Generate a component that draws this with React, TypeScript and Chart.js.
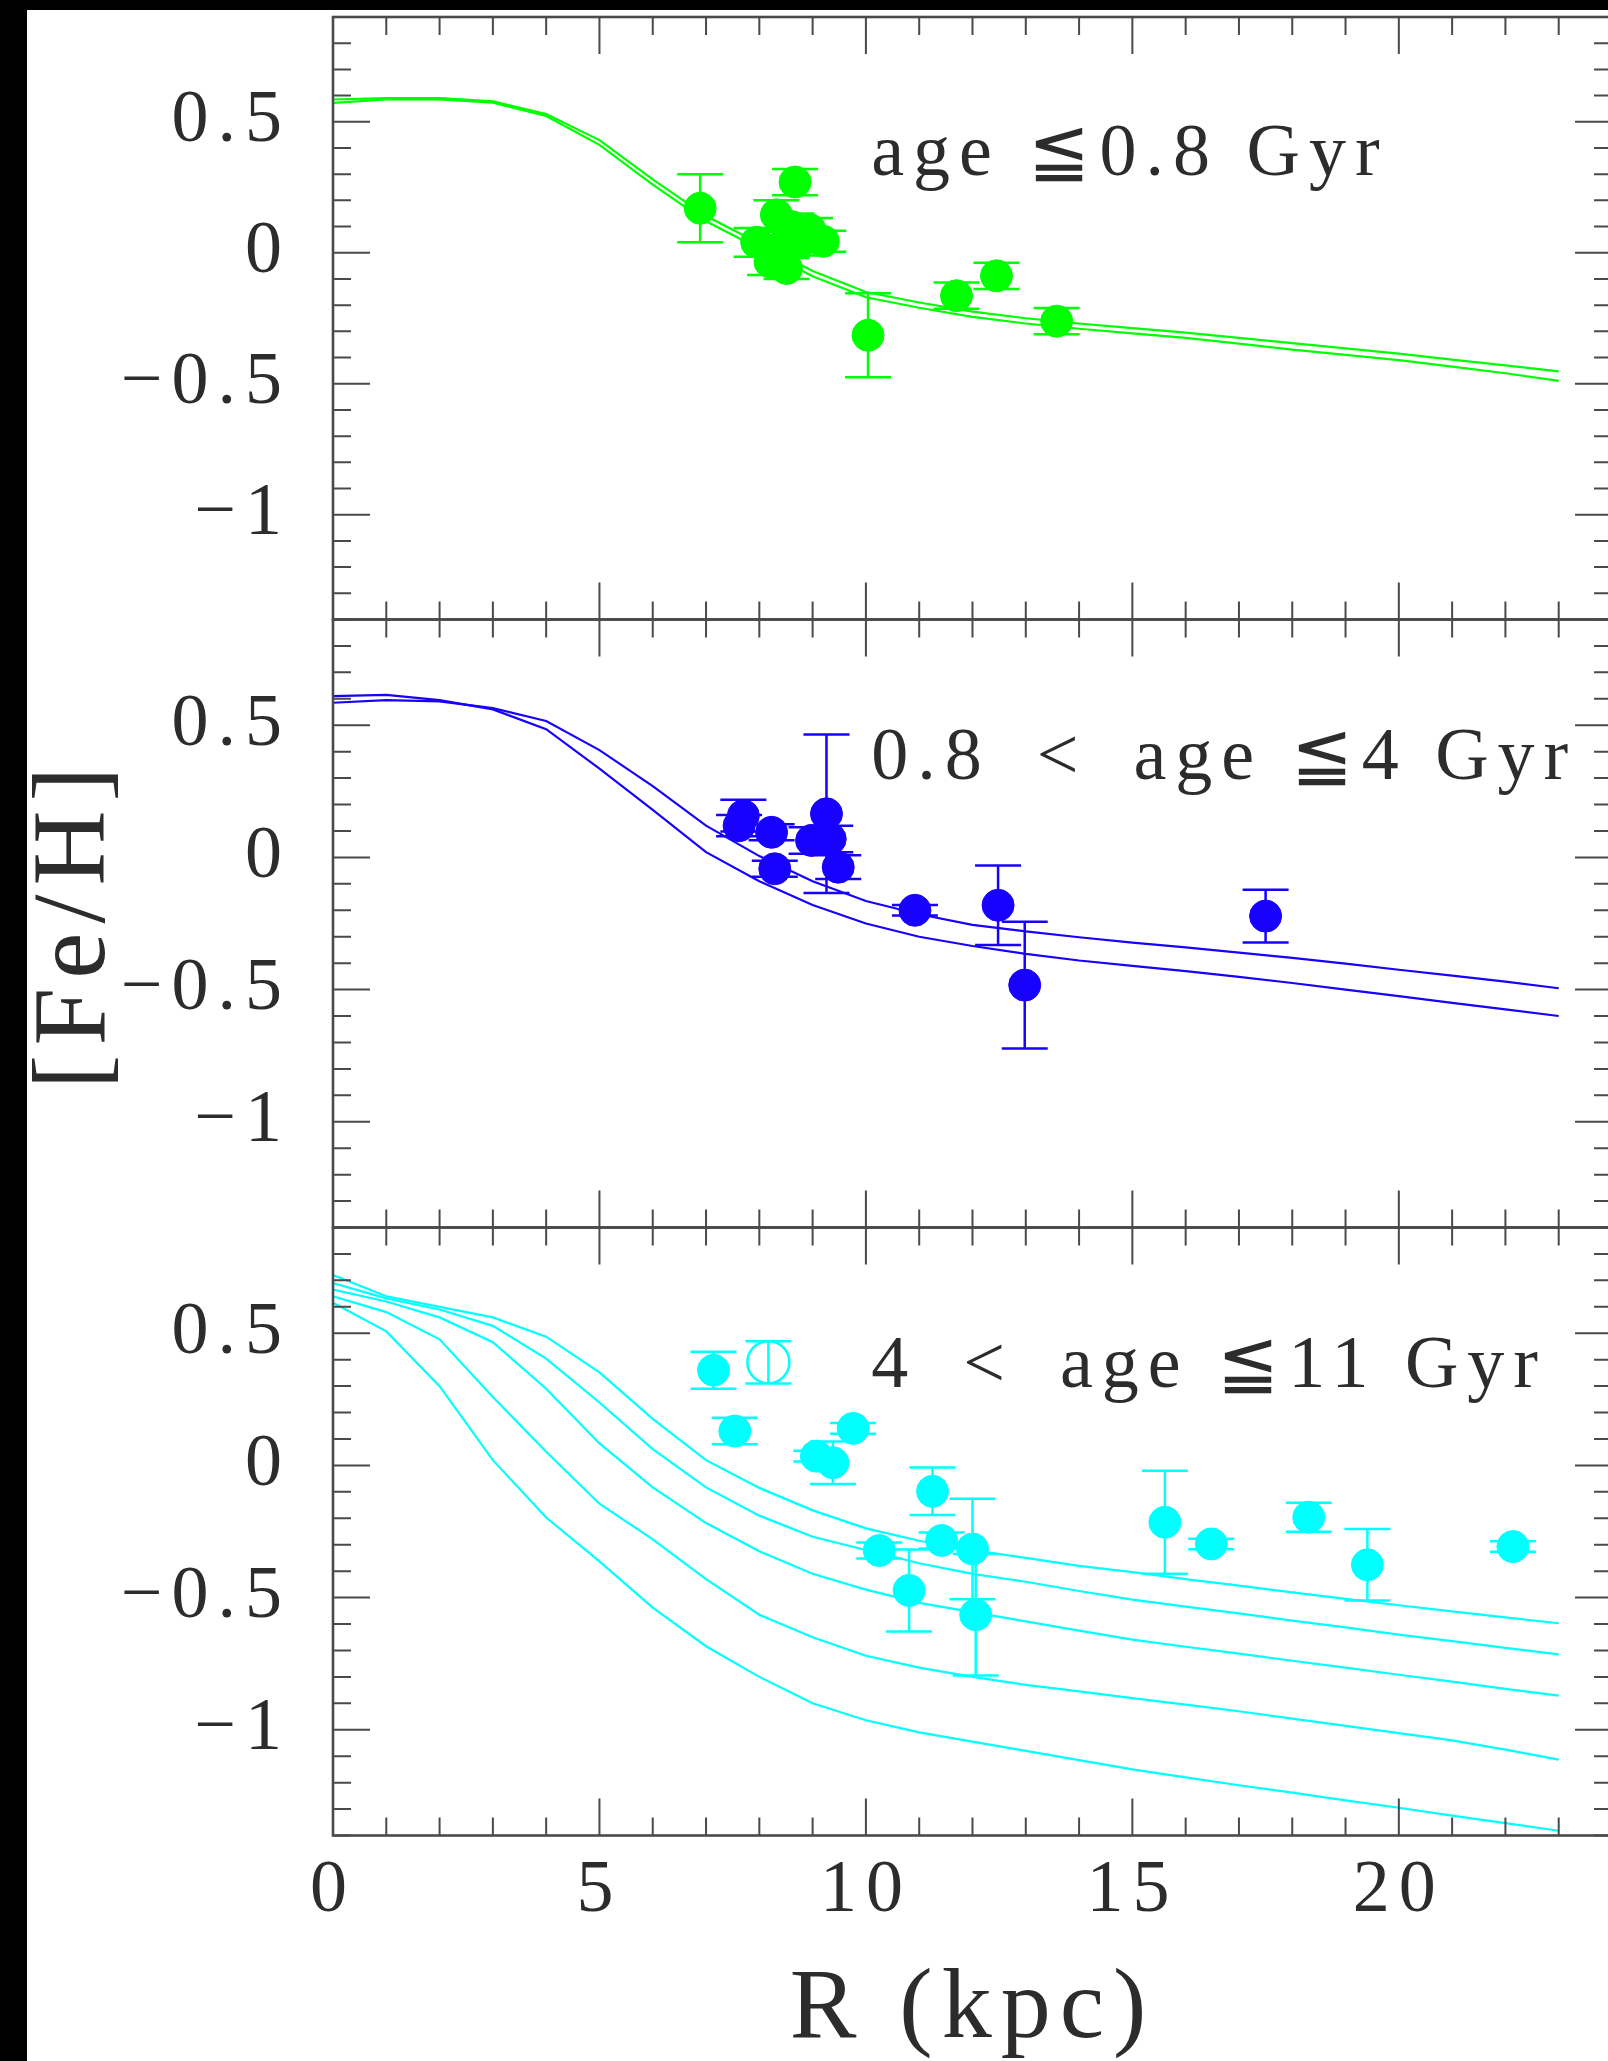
import React, { useEffect, useRef } from 'react';
import { Chart, registerables } from 'chart.js';

Chart.register(...registerables);

// ---------------- data ----------------
const R_GRID = [0, 1, 2, 3, 4, 5, 6, 7, 8, 9, 10, 11, 12, 13, 14, 15, 16, 17, 18, 19, 20, 21, 22, 23];

// age <= 0.8 Gyr models
const GREEN_MODEL_A = [0.585, 0.59, 0.59, 0.578, 0.53, 0.43, 0.28, 0.14, 0.035, -0.07, -0.15, -0.19, -0.225, -0.25, -0.27, -0.288, -0.305, -0.325, -0.345, -0.365, -0.385, -0.408, -0.43, -0.453];
const GREEN_MODEL_B = [0.572, 0.585, 0.585, 0.573, 0.522, 0.412, 0.26, 0.12, 0.015, -0.09, -0.17, -0.21, -0.245, -0.27, -0.29, -0.308, -0.325, -0.347, -0.37, -0.39, -0.41, -0.435, -0.46, -0.489];

// 0.8 < age <= 4 Gyr models
const BLUE_MODEL_A = [0.585, 0.595, 0.59, 0.565, 0.516, 0.406, 0.27, 0.12, 0.005, -0.09, -0.165, -0.215, -0.255, -0.28, -0.302, -0.322, -0.34, -0.36, -0.38, -0.402, -0.425, -0.447, -0.47, -0.495];
const BLUE_MODEL_B = [0.61, 0.615, 0.595, 0.56, 0.485, 0.336, 0.18, 0.02, -0.09, -0.18, -0.25, -0.3, -0.335, -0.365, -0.39, -0.41, -0.43, -0.452, -0.475, -0.5, -0.525, -0.55, -0.575, -0.6];

// 4 < age <= 11 Gyr models
const CYAN_MODEL_1 = [0.72, 0.64, 0.6, 0.56, 0.487, 0.352, 0.176, 0.02, -0.085, -0.17, -0.238, -0.285, -0.321, -0.35, -0.38, -0.404, -0.43, -0.455, -0.48, -0.505, -0.529, -0.552, -0.575, -0.597];
const CYAN_MODEL_2 = [0.69, 0.632, 0.59, 0.528, 0.404, 0.238, 0.062, -0.083, -0.19, -0.27, -0.32, -0.37, -0.41, -0.44, -0.475, -0.508, -0.534, -0.56, -0.587, -0.613, -0.64, -0.665, -0.69, -0.715];
const CYAN_MODEL_3 = [0.665, 0.62, 0.56, 0.466, 0.29, 0.083, -0.083, -0.218, -0.325, -0.41, -0.47, -0.52, -0.555, -0.59, -0.625, -0.659, -0.686, -0.712, -0.739, -0.765, -0.792, -0.818, -0.845, -0.871];
const CYAN_MODEL_4 = [0.64, 0.58, 0.477, 0.259, 0.052, -0.145, -0.28, -0.43, -0.565, -0.65, -0.72, -0.765, -0.8, -0.83, -0.855, -0.88, -0.905, -0.93, -0.958, -0.985, -1.013, -1.04, -1.075, -1.113];
const CYAN_MODEL_5 = [0.615, 0.507, 0.3, 0.02, -0.197, -0.363, -0.538, -0.684, -0.8, -0.9, -0.964, -1.01, -1.045, -1.08, -1.115, -1.15, -1.18, -1.21, -1.238, -1.267, -1.295, -1.325, -1.353, -1.382];

// observed clusters
const GREEN_R = [6.89, 8.67, 8.32, 7.95, 8.2, 8.51, 8.45, 8.6, 8.76, 8.95, 9.2, 10.04, 11.7, 12.45, 13.58];
const GREEN_FEH = [0.17, 0.27, 0.145, 0.04, -0.035, -0.06, 0.03, 0.1, 0.04, 0.088, 0.044, -0.315, -0.164, -0.088, -0.261];
const GREEN_ERR = [0.13, 0.05, 0.055, 0.055, 0.05, 0.04, 0.05, 0.05, 0.05, 0.045, 0.04, 0.16, 0.05, 0.05, 0.05];

const BLUE_R = [7.7, 7.62, 8.23, 8.29, 9.26, 8.98, 9.33, 9.48, 10.92, 12.48, 12.98, 17.5];
const BLUE_FEH = [0.158, 0.12, 0.095, -0.043, 0.165, 0.064, 0.07, -0.037, -0.2, -0.181, -0.483, -0.222];
const BLUE_ERR = [0.06, 0.04, 0.03, 0.03, 0.3, 0.05, 0.05, 0.045, 0.02, 0.15, 0.24, 0.1];

const CYAN_R = [7.14, 7.54, 9.76, 9.07, 9.38, 11.25, 10.25, 11.42, 12.0, 12.06, 10.81, 15.61, 16.48, 18.31, 19.41, 22.14];
const CYAN_FEH = [0.36, 0.13, 0.14, 0.035, 0.01, -0.098, -0.322, -0.284, -0.316, -0.565, -0.473, -0.215, -0.297, -0.196, -0.376, -0.307];
const CYAN_ERR = [0.07, 0.05, 0.02, 0.02, 0.08, 0.09, 0.03, 0.03, 0.19, 0.23, 0.155, 0.195, 0.02, 0.055, 0.135, 0.02];

const CYAN_OPEN_R = [8.17];
const CYAN_OPEN_FEH = [0.39];
const CYAN_OPEN_ERR = [0.08];

const PANEL_LABELS = ['age \u22660.8 Gyr', '0.8\u2002<\u2002age \u22664 Gyr', '4\u2002<\u2002age \u226611 Gyr'];
const X_TITLE = 'R (kpc)';
const Y_TITLE = '[Fe/H]';
const X_MIN = 0;
const X_MAX = 24;
const Y_MIN = -1.4;
const Y_MAX = 0.9;
const LABEL_ANCHOR_R = 10.1;
const LABEL_ANCHOR_FEH = 0.295;

// ---------------- styling / layout ----------------
const W = 1640;
const H = 2061;
const VIEW_W = 1608;
const AXIS_W = 333;
const RIGHT_PAD = W - 1612;
const PANEL_TOP = [11.5, 619.5, 1227.5];
const PANEL_BOTTOM = [619.5, 1227.5, 1835.5];
const FONT = '"Liberation Serif", "DejaVu Serif", serif';
const TEXT_COLOR = '#2c2c2c';
const AXIS_COLOR = '#4a4a4a';
const SPACING = '9px';
const MAJOR_LEN = 37;
const MINOR_LEN = 18;
const CAP = 23;

const isMult = (v: number, m: number) => Math.abs(v / m - Math.round(v / m)) < 1e-6;

const fmtY = (v: number) => {
  const r = Math.round(v * 10) / 10;
  if (!isMult(r, 0.5)) return '';
  if (Math.abs(r) < 1e-9) return '0';
  return (r < 0 ? '\u2212' : '') + String(Math.abs(r));
};
const fmtX = (v: number) => {
  const r = Math.round(v);
  return isMult(r, 5) && r < X_MAX ? String(r) : '';
};

const spacingPlugin = {
  id: 'spacing',
  beforeUpdate(chart: any) {
    chart.ctx.letterSpacing = SPACING;
  },
  beforeLayout(chart: any) {
    chart.ctx.letterSpacing = SPACING;
  },
  beforeDraw(chart: any) {
    chart.ctx.letterSpacing = SPACING;
  },
};

const errorBarPlugin = {
  id: 'errorBars',
  beforeDatasetsDraw(chart: any) {
    const { ctx } = chart;
    const x = chart.scales.x;
    const y = chart.scales.y;
    chart.data.datasets.forEach((ds: any) => {
      if (!ds.yErr) return;
      ctx.save();
      ctx.strokeStyle = ds.errColor;
      ctx.lineWidth = 2.5;
      ctx.beginPath();
      ds.data.forEach((p: any, i: number) => {
        const e = ds.yErr[i];
        const px = x.getPixelForValue(p.x);
        const y1 = y.getPixelForValue(p.y + e);
        const y2 = y.getPixelForValue(p.y - e);
        ctx.moveTo(px, y1);
        ctx.lineTo(px, y2);
        ctx.moveTo(px - CAP, y1);
        ctx.lineTo(px + CAP, y1);
        ctx.moveTo(px - CAP, y2);
        ctx.lineTo(px + CAP, y2);
      });
      ctx.stroke();
      ctx.restore();
    });
  },
};

const framePlugin = {
  id: 'frame',
  afterDraw(chart: any) {
    const { ctx, chartArea: a } = chart;
    const x = chart.scales.x;
    const y = chart.scales.y;
    ctx.save();
    ctx.strokeStyle = AXIS_COLOR;
    ctx.lineWidth = 2;
    ctx.beginPath();
    x.ticks.forEach((t: any) => {
      const px = x.getPixelForValue(t.value);
      const len = isMult(t.value, 5) ? MAJOR_LEN : MINOR_LEN;
      ctx.moveTo(px, a.bottom);
      ctx.lineTo(px, a.bottom - len);
      ctx.moveTo(px, a.top);
      ctx.lineTo(px, a.top + len);
    });
    y.ticks.forEach((t: any) => {
      const py = y.getPixelForValue(t.value);
      const len = isMult(Math.round(t.value * 10) / 10, 0.5) ? MAJOR_LEN : MINOR_LEN;
      ctx.moveTo(a.left, py);
      ctx.lineTo(a.left + len, py);
      ctx.moveTo(a.right, py);
      ctx.lineTo(a.right - len, py);
    });
    ctx.stroke();
    ctx.lineWidth = 2.6;
    ctx.strokeRect(a.left, a.top, a.right - a.left, a.bottom - a.top);
    ctx.restore();
  },
};

const makeLabelPlugin = (text: string) => ({
  id: 'panelLabel',
  afterDraw(chart: any) {
    const { ctx } = chart;
    const px = chart.scales.x.getPixelForValue(LABEL_ANCHOR_R);
    const py = chart.scales.y.getPixelForValue(LABEL_ANCHOR_FEH);
    ctx.save();
    ctx.letterSpacing = SPACING;
    ctx.font = `74px ${FONT}`;
    ctx.fillStyle = TEXT_COLOR;
    ctx.textAlign = 'left';
    ctx.textBaseline = 'alphabetic';
    ctx.fillText(text, px, py);
    ctx.restore();
  },
});

const toXY = (xs: number[], ys: number[]) => xs.map((v, i) => ({ x: v, y: ys[i] }));

const lineDs = (ys: number[], color: string) => ({
  type: 'line',
  data: toXY(R_GRID, ys),
  borderColor: color,
  borderWidth: 2.2,
  pointRadius: 0,
  showLine: true,
  fill: false,
  tension: 0,
});

const pointDs = (xs: number[], ys: number[], errs: number[], color: string, open = false) => ({
  type: 'scatter',
  data: toXY(xs, ys),
  yErr: errs,
  errColor: color,
  pointRadius: open ? 21 : 16,
  pointBackgroundColor: open ? 'rgba(255,255,255,0)' : color,
  pointBorderColor: color,
  pointBorderWidth: open ? 2.5 : 1,
  showLine: false,
});

interface PanelDef {
  datasets: any[];
  label: string;
  showX: boolean;
  showYTitle: boolean;
}

const PANELS: PanelDef[] = [
  {
    datasets: [
      pointDs(GREEN_R, GREEN_FEH, GREEN_ERR, '#00ff00'),
      lineDs(GREEN_MODEL_A, '#00ff00'),
      lineDs(GREEN_MODEL_B, '#00ff00'),
    ],
    label: PANEL_LABELS[0],
    showX: false,
    showYTitle: false,
  },
  {
    datasets: [
      pointDs(BLUE_R, BLUE_FEH, BLUE_ERR, '#1800ff'),
      lineDs(BLUE_MODEL_A, '#1800ff'),
      lineDs(BLUE_MODEL_B, '#1800ff'),
    ],
    label: PANEL_LABELS[1],
    showX: false,
    showYTitle: true,
  },
  {
    datasets: [
      pointDs(CYAN_R, CYAN_FEH, CYAN_ERR, '#00ffff'),
      pointDs(CYAN_OPEN_R, CYAN_OPEN_FEH, CYAN_OPEN_ERR, '#00ffff', true),
      lineDs(CYAN_MODEL_1, '#00ffff'),
      lineDs(CYAN_MODEL_2, '#00ffff'),
      lineDs(CYAN_MODEL_3, '#00ffff'),
      lineDs(CYAN_MODEL_4, '#00ffff'),
      lineDs(CYAN_MODEL_5, '#00ffff'),
    ],
    label: PANEL_LABELS[2],
    showX: true,
    showYTitle: false,
  },
];

const buildConfig = (idx: number): any => {
  const p = PANELS[idx];
  const top = PANEL_TOP[idx];
  const bottom = PANEL_BOTTOM[idx];
  const xHeight = p.showX ? H - bottom : 0;
  return {
    type: 'scatter',
    data: { datasets: p.datasets },
    options: {
      animation: false,
      responsive: false,
      maintainAspectRatio: false,
      devicePixelRatio: 1,
      events: [],
      layout: {
        padding: { top, left: 0, right: RIGHT_PAD, bottom: p.showX ? 0 : H - bottom },
      },
      plugins: {
        legend: { display: false },
        tooltip: { enabled: false },
        title: { display: false },
      },
      scales: {
        x: {
          type: 'linear',
          min: X_MIN,
          max: X_MAX,
          grid: { display: false, drawTicks: false },
          border: { display: false },
          ticks: {
            display: p.showX,
            stepSize: 1,
            autoSkip: false,
            maxRotation: 0,
            minRotation: 0,
            padding: 19.5,
            color: TEXT_COLOR,
            font: { family: FONT, size: 74, lineHeight: 1 },
            callback: (v: any) => fmtX(Number(v)),
          },
          title: {
            display: p.showX,
            text: X_TITLE,
            color: TEXT_COLOR,
            font: { family: FONT, size: 100, lineHeight: 1 },
            padding: { top: 1, bottom: 0 },
          },
          afterFit: (s: any) => {
            s.height = xHeight;
            s.paddingLeft = 0;
            s.paddingRight = 0;
            s.paddingTop = 0;
            s.paddingBottom = 0;
          },
        },
        y: {
          type: 'linear',
          min: Y_MIN,
          max: Y_MAX,
          grid: { display: false, drawTicks: false },
          border: { display: false },
          ticks: {
            stepSize: 0.1,
            autoSkip: false,
            padding: 42,
            color: TEXT_COLOR,
            font: { family: FONT, size: 74, lineHeight: 1 },
            callback: (v: any) => fmtY(Number(v)),
          },
          title: {
            display: p.showYTitle,
            text: Y_TITLE,
            color: TEXT_COLOR,
            font: { family: FONT, size: 104, lineHeight: 1 },
            padding: { top: 25, bottom: 0 },
          },
          afterFit: (s: any) => {
            s.width = AXIS_W;
            s.paddingLeft = 0;
            s.paddingRight = 0;
            s.paddingTop = 0;
            s.paddingBottom = 0;
          },
        },
      },
    },
    plugins: [spacingPlugin, errorBarPlugin, framePlugin, makeLabelPlugin(p.label)],
  };
};

export default function App() {
  const ref0 = useRef<HTMLCanvasElement>(null);
  const ref1 = useRef<HTMLCanvasElement>(null);
  const ref2 = useRef<HTMLCanvasElement>(null);

  useEffect(() => {
    const refs = [ref0, ref1, ref2];
    const charts: Chart[] = [];
    refs.forEach((r, i) => {
      if (r.current) {
        charts.push(new Chart(r.current, buildConfig(i)));
      }
    });
    return () => {
      charts.forEach((c) => c.destroy());
    };
  }, []);

  const canvasStyle: React.CSSProperties = {
    position: 'absolute',
    left: 0,
    top: 0,
    width: W,
    height: H,
  };

  return (
    <div
      style={{
        position: 'fixed',
        left: 0,
        top: 0,
        width: VIEW_W,
        height: H,
        overflow: 'hidden',
        background: '#ffffff',
      }}
    >
      <div style={{ position: 'absolute', left: 0, top: 0, width: 27, height: H, background: '#000' }} />
      <div style={{ position: 'absolute', left: 0, top: 0, width: VIEW_W, height: 10, background: '#000' }} />
      <canvas ref={ref0} width={W} height={H} style={canvasStyle} />
      <canvas ref={ref1} width={W} height={H} style={canvasStyle} />
      <canvas ref={ref2} width={W} height={H} style={canvasStyle} />
    </div>
  );
}
